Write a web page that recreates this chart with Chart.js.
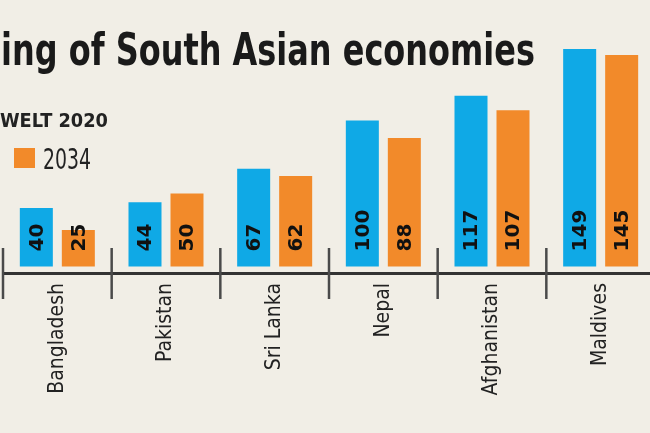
<!DOCTYPE html>
<html>
<head>
<meta charset="utf-8">
<title>Ranking of South Asian economies</title>
<script src="https://cdn.jsdelivr.net/npm/chart.js@4.4.1/dist/chart.umd.min.js"></script>
<style>
  html, body { margin: 0; padding: 0; overflow: hidden; background: #f1eee6; }
  #wrap { position: relative; width: 650px; height: 433px; overflow: hidden; }
  #rankChart { position: absolute; left: 0; top: 0; }
  #overlay { position: absolute; left: 0; top: 0; pointer-events: none; }
</style>
</head>
<body>
<div id="wrap">
  <canvas id="rankChart" width="660" height="433"></canvas>
  <svg id="overlay" width="650" height="433" xmlns="http://www.w3.org/2000/svg">
    <text x="1" y="65" font-family="'Liberation Sans Narrow', 'DejaVu Sans Condensed', sans-serif" font-weight="bold" font-size="45" fill="#1a1a1a" textLength="534" lengthAdjust="spacingAndGlyphs">ing of South Asian economies</text>
    <text x="0" y="127" font-family="'DejaVu Sans', sans-serif" font-weight="bold" font-size="19" fill="#222" textLength="108" lengthAdjust="spacingAndGlyphs">WELT 2020</text>
    <rect id="legend-swatch" x="14" y="148" width="21" height="20"></rect>
    <text id="legend-label" x="43" y="169" font-family="'Liberation Sans Narrow', 'DejaVu Sans Condensed', sans-serif" font-size="29" fill="#222" textLength="48" lengthAdjust="spacingAndGlyphs"></text>
  </svg>
</div>

<script>
// ==================== RANKING OF SOUTH ASIAN ECONOMIES (WELT 2020) ====================

const categories = ['Bangladesh', 'Pakistan', 'Sri Lanka', 'Nepal', 'Afghanistan', 'Maldives'];
const seriesNames = ['2020', '2034'];
const rank2020 = [40, 44, 67, 100, 117, 149];
const rank2034 = [25, 50, 62, 88, 107, 145];

const BLUE = '#0fa9e6';
const ORANGE = '#f28a2a';

// legend swatch shares the dataset colour
document.getElementById('legend-swatch').setAttribute('fill', ORANGE);
document.getElementById('legend-label').textContent = seriesNames[1];

// short tick marks on category boundaries, above and below the axis line
const boundaryTicks = {
  id: 'boundaryTicks',
  afterDraw(chart) {
    const x = chart.scales.x;
    const ctx = chart.ctx;
    const half = (x.getPixelForTick(1) - x.getPixelForTick(0)) / 2;
    const axisY = chart.chartArea.bottom;
    ctx.save();
    ctx.strokeStyle = '#4a4a4a';
    ctx.lineWidth = 2.5;
    for (let i = 0; i <= categories.length; i++) {
      const px = i < categories.length ? x.getPixelForTick(i) - half : x.getPixelForTick(i - 1) + half;
      ctx.beginPath();
      ctx.moveTo(px, axisY - 25);
      ctx.lineTo(px, axisY + 26);
      ctx.stroke();
    }
    ctx.restore();
  }
};

// value written sideways inside each bar, near its foot
const barValues = {
  id: 'barValues',
  afterDatasetsDraw(chart) {
    const ctx = chart.ctx;
    ctx.save();
    ctx.font = 'bold 20px "DejaVu Sans", sans-serif';
    ctx.fillStyle = '#111';
    ctx.textAlign = 'left';
    ctx.textBaseline = 'middle';
    chart.data.datasets.forEach((ds, di) => {
      chart.getDatasetMeta(di).data.forEach((bar, i) => {
        ctx.save();
        ctx.translate(bar.x, bar.base - 15);
        ctx.rotate(-Math.PI / 2);
        ctx.fillText(String(ds.data[i]), 0, 1);
        ctx.restore();
      });
    });
    ctx.restore();
  }
};

new Chart(document.getElementById('rankChart'), {
  type: 'bar',
  data: {
    labels: categories,
    datasets: [
      { label: seriesNames[0], data: rank2020, backgroundColor: BLUE },
      { label: seriesNames[1], data: rank2034, backgroundColor: ORANGE }
    ]
  },
  options: {
    responsive: false,
    animation: false,
    devicePixelRatio: 1,
    layout: { padding: { left: 3, right: 5, top: 33, bottom: 0 } },
    datasets: { bar: { categoryPercentage: 0.773, barPercentage: 0.786 } },
    plugins: { legend: { display: false }, tooltip: { enabled: false } },
    scales: {
      x: {
        offset: true,
        grid: { display: false, drawTicks: false },
        border: { display: true, color: '#333', width: 3 },
        ticks: {
          autoSkip: false,
          minRotation: 90,
          maxRotation: 90,
          padding: 10,
          color: '#222',
          font: { family: '"DejaVu Sans Condensed", "Liberation Sans Narrow", sans-serif', size: 21 }
        },
        afterFit: scale => { scale.height = 160; }
      },
      y: { display: false, min: -4.5, max: 160 }
    }
  },
  plugins: [boundaryTicks, barValues]
});
</script>
</body>
</html>
